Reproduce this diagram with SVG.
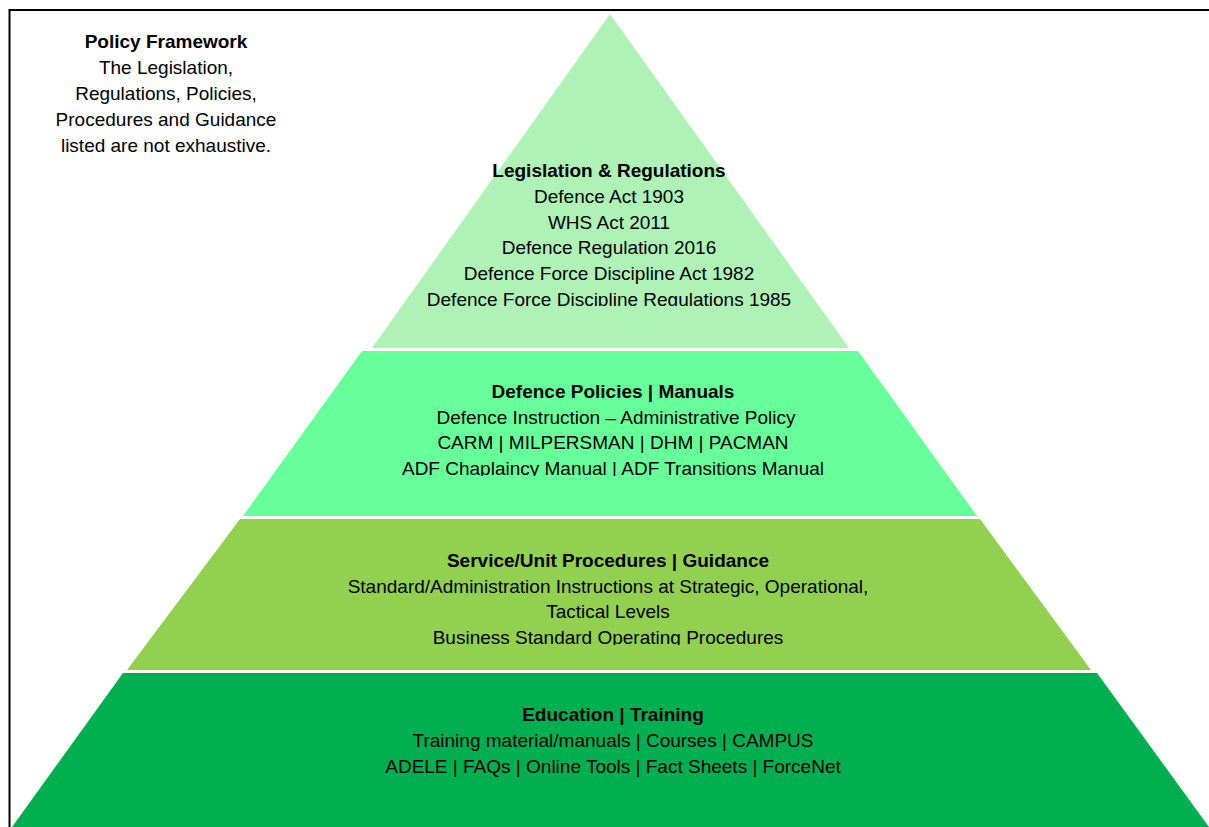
<svg xmlns="http://www.w3.org/2000/svg" width="1209" height="827" viewBox="0 0 1209 827">
  <style>
    .t { font-family: "Liberation Sans", Arial, sans-serif; font-size: 19px; fill: #000; text-anchor: middle; }
    .b { font-weight: bold; }
  </style>
  <defs>
    <clipPath id="clip1"><rect x="370" y="150" width="480" height="156"/></clipPath>
    <clipPath id="clip2"><rect x="250" y="370" width="720" height="106"/></clipPath>
    <clipPath id="clip3"><rect x="130" y="540" width="960" height="105"/></clipPath>
    <clipPath id="clip4"><rect x="20" y="690" width="1180" height="110"/></clipPath>
  </defs>
  <rect width="1209" height="827" fill="#fff"/>
  <!-- frame -->
  <path d="M9.5 827 V10 H1209" fill="none" stroke="#000" stroke-width="2"/>

  <!-- note -->
  <g id="note">
    <text class="t b" x="166" y="48">Policy Framework</text>
    <text class="t" x="166" y="74">The Legislation,</text>
    <text class="t" x="166" y="100">Regulations, Policies,</text>
    <text class="t" x="166" y="126">Procedures and Guidance</text>
    <text class="t" x="166" y="152">listed are not exhaustive.</text>
  </g>

  <!-- tier 1 -->
  <g id="legislation">
    <polygon points="610,14 849,348 372,348" fill="#AEF2B5"/>
    <g clip-path="url(#clip1)">
      <text class="t b" x="609" y="177">Legislation &amp; Regulations</text>
      <text class="t" x="609" y="203">Defence Act 1903</text>
      <text class="t" x="609" y="229">WHS Act 2011</text>
      <text class="t" x="609" y="254">Defence Regulation 2016</text>
      <text class="t" x="609" y="280">Defence Force Discipline Act 1982</text>
      <text class="t" x="609" y="306">Defence Force Discipline Regulations 1985</text>
    </g>
  </g>

  <!-- tier 2 -->
  <g id="policies">
    <polygon points="362,351 858,351 977,516 243,516" fill="#66FF99"/>
    <g clip-path="url(#clip2)">
      <text class="t b" x="613" y="398">Defence Policies | Manuals</text>
      <text class="t" x="616" y="424">Defence Instruction – Administrative Policy</text>
      <text class="t" x="613" y="449">CARM | MILPERSMAN | DHM | PACMAN</text>
      <text class="t" x="613" y="475">ADF Chaplaincy Manual | ADF Transitions Manual</text>
    </g>
  </g>

  <!-- tier 3 -->
  <g id="procedures">
    <polygon points="240,519 980,519 1091,670 127,670" fill="#92D050"/>
    <g clip-path="url(#clip3)">
      <text class="t b" x="608" y="567">Service/Unit Procedures | Guidance</text>
      <text class="t" x="608" y="593">Standard/Administration Instructions at Strategic, Operational,</text>
      <text class="t" x="608" y="618">Tactical Levels</text>
      <text class="t" x="608" y="644">Business Standard Operating Procedures</text>
    </g>
  </g>

  <!-- tier 4 -->
  <g id="training">
    <polygon points="123,673 1097,673 1209,827 12,827" fill="#00B050"/>
    <g clip-path="url(#clip4)">
      <text class="t b" x="613" y="721">Education | Training</text>
      <text class="t" x="613" y="747">Training material/manuals | Courses | CAMPUS</text>
      <text class="t" x="613" y="773">ADELE | FAQs | Online Tools | Fact Sheets | ForceNet</text>
    </g>
  </g>
</svg>
